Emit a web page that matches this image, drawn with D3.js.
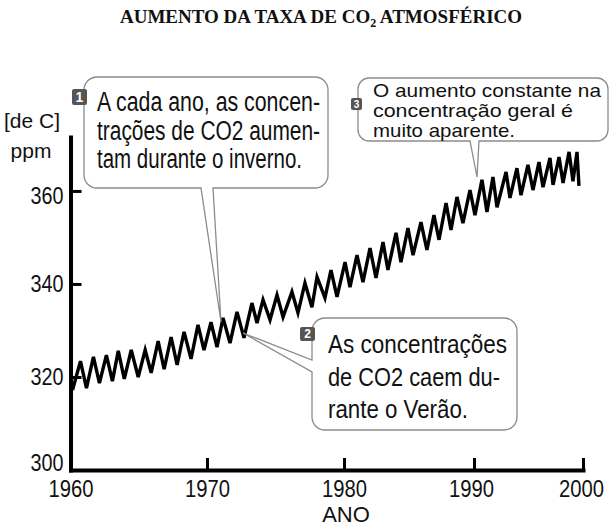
<!DOCTYPE html>
<html>
<head>
<meta charset="utf-8">
<script src="https://cdn.jsdelivr.net/npm/d3@7/dist/d3.min.js"></script>
<style>
  body { margin: 0; background: #fff; }
  svg { display: block; }
  text { font-family: "Liberation Sans", Arial, sans-serif; fill: #111; }
</style>
</head>
<body>
<svg width="615" height="529"></svg>
<script>
// zigzag vertices (alternating winter high / summer low)
const years = [1960.15,
  1960.73, 1961.17, 1961.68, 1962.12, 1962.63, 1963.07, 1963.50, 1963.94, 1964.45, 1964.96,
  1965.47, 1965.91, 1966.42, 1966.86, 1967.37, 1967.81, 1968.32, 1968.83, 1969.34, 1969.78,
  1970.29, 1970.73, 1971.17, 1971.68, 1972.19, 1972.70, 1973.28, 1973.65, 1974.09, 1974.60,
  1975.11, 1975.55, 1976.20, 1976.64, 1977.15, 1977.66, 1978.03, 1978.61, 1979.05, 1979.49,
  1980.08, 1980.46, 1981.00, 1981.46, 1982.00, 1982.46, 1983.00, 1983.38, 1984.00, 1984.38,
  1984.92, 1985.31, 1985.92, 1986.38, 1986.92, 1987.31, 1987.85, 1988.23, 1988.69, 1989.15,
  1989.69, 1990.09, 1990.73, 1991.19, 1991.74, 1992.11, 1992.94, 1993.30, 1993.94, 1994.31,
  1994.95, 1995.41, 1995.96, 1996.33, 1996.97, 1997.25, 1997.80, 1998.17, 1998.72, 1999.08,
  1999.45, 1999.63];
const ppm = [317.2,
  323.4, 317.6, 324.3, 318.7, 324.7, 319.1, 325.6, 319.6, 325.8, 320.0,
  325.8, 320.9, 327.7, 321.7, 328.6, 322.6, 329.7, 323.9, 331.2, 325.8,
  331.8, 326.4, 332.7, 327.3, 334.0, 328.4, 335.9, 331.6, 336.6, 332.3,
  337.6, 332.9, 338.3, 333.8, 340.2, 335.0, 341.5, 337.0, 343.0, 337.2,
  344.7, 339.3, 346.2, 340.4, 347.7, 341.3, 349.0, 343.0, 351.0, 344.7,
  352.0, 346.2, 353.3, 347.3, 354.8, 349.5, 357.4, 351.6, 358.7, 353.1,
  360.2, 354.8, 362.4, 355.5, 363.0, 356.5, 364.1, 358.5, 364.9, 359.1,
  365.6, 360.2, 366.2, 360.8, 367.1, 361.3, 367.3, 361.7, 368.4, 362.1,
  368.4, 361.1];

const xTicks = [1960, 1970, 1980, 1990, 2000];
const yTicks = [300, 320, 340, 360];

const note1 = ["A cada ano, as concen-", "trações de CO2 aumen-", "tam durante o inverno."];
const note2 = ["As concentrações", "de CO2 caem du-", "rante o Verão."];
const note3 = ["O aumento constante na", "concentração geral é", "muito aparente."];

const svg = d3.select("svg");

// hand drawn axis: decades are not quite evenly spaced
const x = d3.scaleLinear().domain(xTicks).range([70.5, 207, 344, 474, 583]);
const y = d3.scaleLinear().domain([300, 371.6]).range([470, 137]);

// title
const title = svg.append("text")
  .attr("x", 321).attr("y", 23)
  .attr("text-anchor", "middle")
  .style("font-family", "'Liberation Serif', 'Times New Roman', serif")
  .style("font-weight", "bold")
  .style("font-size", "19px");
title.append("tspan").text("AUMENTO DA TAXA DE CO");
title.append("tspan").attr("dy", 4).style("font-size", "12px").text("2");
title.append("tspan").attr("dy", -4).text(" ATMOSFÉRICO");

// axes
const yAxis = svg.append("g")
  .attr("transform", "translate(70.5,0)")
  .call(d3.axisLeft(y).tickValues(yTicks).tickSizeInner(-11).tickSizeOuter(0).tickPadding(7));
const xAxis = svg.append("g")
  .attr("transform", "translate(0,470)")
  .call(d3.axisBottom(x).tickValues(xTicks).tickFormat(d3.format("d"))
    .tickSizeInner(-12).tickSizeOuter(0).tickPadding(10));

[yAxis, xAxis].forEach(g => {
  g.select(".domain").attr("stroke", "#000").attr("stroke-width", 4).attr("stroke-linecap", "square");
  g.selectAll(".tick line").attr("stroke", "#000").attr("stroke-width", 3);
  g.selectAll(".tick text")
    .attr("fill", "#111")
    .style("font-family", "'Liberation Sans Narrow', 'Liberation Sans', Arial, sans-serif")
    .style("font-size", "24px")
    .attr("lengthAdjust", "spacingAndGlyphs");
});
yAxis.selectAll(".tick text").attr("textLength", 33)
  .attr("dy", d => d == 300 ? "0em" : d == 360 ? "0.52em" : "0.32em");
xAxis.selectAll(".tick text").attr("textLength", 45)
  .attr("dx", d => d == 1990 ? -3 : d == 2000 ? -2 : 0);

// axis titles
svg.append("text").attr("x", 32).attr("y", 128).attr("text-anchor", "middle")
  .style("font-size", "21px").text("[de C]");
svg.append("text").attr("x", 31).attr("y", 158).attr("text-anchor", "middle")
  .style("font-size", "21px").text("ppm");
svg.append("text").attr("x", 346).attr("y", 522).attr("text-anchor", "middle")
  .style("font-size", "22px").text("ANO");

// the CO2 curve
const line = d3.line().x(d => x(d[0])).y(d => y(d[1]));
svg.append("path")
  .datum(d3.zip(years, ppm))
  .attr("d", line)
  .attr("fill", "none")
  .attr("stroke", "#000")
  .attr("stroke-width", 3.4)
  .attr("stroke-linejoin", "miter");

// speech bubble outline with a pointer on the bottom or left side
function bubble(b) {
  const { x0, y0, x1, y1, r } = b;
  const arc = (ex, ey) => `A${r},${r} 0 0 1 ${ex},${ey}`;
  let p = `M${x0 + r},${y0} H${x1 - r} ${arc(x1, y0 + r)} V${y1 - r} ${arc(x1 - r, y1)}`;
  if (b.side === "bottom") {
    p += ` H${b.b1} L${b.tip[0]},${b.tip[1]} L${b.b0},${y1}`;
  }
  p += ` H${x0 + r} ${arc(x0, y1 - r)}`;
  if (b.side === "left") {
    p += ` V${b.b1} L${b.tip[0]},${b.tip[1]} L${x0},${b.b0}`;
  }
  p += ` V${y0 + r} ${arc(x0 + r, y0)} Z`;
  return p;
}

const bubbles = [
  { x0: 84, y0: 77, x1: 328, y1: 188, r: 13, side: "bottom", b0: 201, b1: 213, tip: [221, 322],
    badge: { n: "1", x: 72, y: 89, w: 15, h: 16 },
    lines: note1, tx: 97, ty: 111, lh: 28.5, fs: 27, widths: [223, 223, 205] },
  { x0: 312, y0: 318, x1: 517, y1: 430, r: 13, side: "left", b0: 360, b1: 372, tip: [243, 333],
    badge: { n: "2", x: 300, y: 327, w: 15, h: 14 },
    lines: note2, tx: 328, ty: 353, lh: 32.5, fs: 25, widths: [179, 172, 140] },
  { x0: 358, y0: 78, x1: 608, y1: 141, r: 11, side: "bottom", b0: 470, b1: 479, tip: [477, 177],
    badge: { n: "3", x: 351, y: 98, w: 11, h: 12 },
    lines: note3, tx: 373, ty: 97, lh: 20, fs: 19, widths: [228, 200, 142] }
];

bubbles.forEach(b => {
  const g = svg.append("g");
  g.append("path")
    .attr("d", bubble(b))
    .attr("fill", "#fff")
    .attr("stroke", "#8c8c8c")
    .attr("stroke-width", 1.3);
  g.append("rect")
    .attr("x", b.badge.x).attr("y", b.badge.y)
    .attr("width", b.badge.w).attr("height", b.badge.h)
    .attr("rx", 2)
    .attr("fill", "#555");
  g.append("text")
    .attr("x", b.badge.x + b.badge.w / 2)
    .attr("y", b.badge.y + b.badge.h / 2)
    .attr("dy", "0.36em")
    .attr("text-anchor", "middle")
    .style("font-size", (b.badge.h - 2) + "px")
    .style("font-weight", "bold")
    .style("fill", "#fff")
    .text(b.badge.n);
  g.selectAll("text.note")
    .data(b.lines)
    .enter().append("text")
    .attr("class", "note")
    .attr("x", b.tx)
    .attr("y", (d, i) => b.ty + i * b.lh)
    .attr("textLength", (d, i) => b.widths[i])
    .attr("lengthAdjust", "spacingAndGlyphs")
    .style("font-size", b.fs + "px")
    .text(d => d);
});
</script>
</body>
</html>
